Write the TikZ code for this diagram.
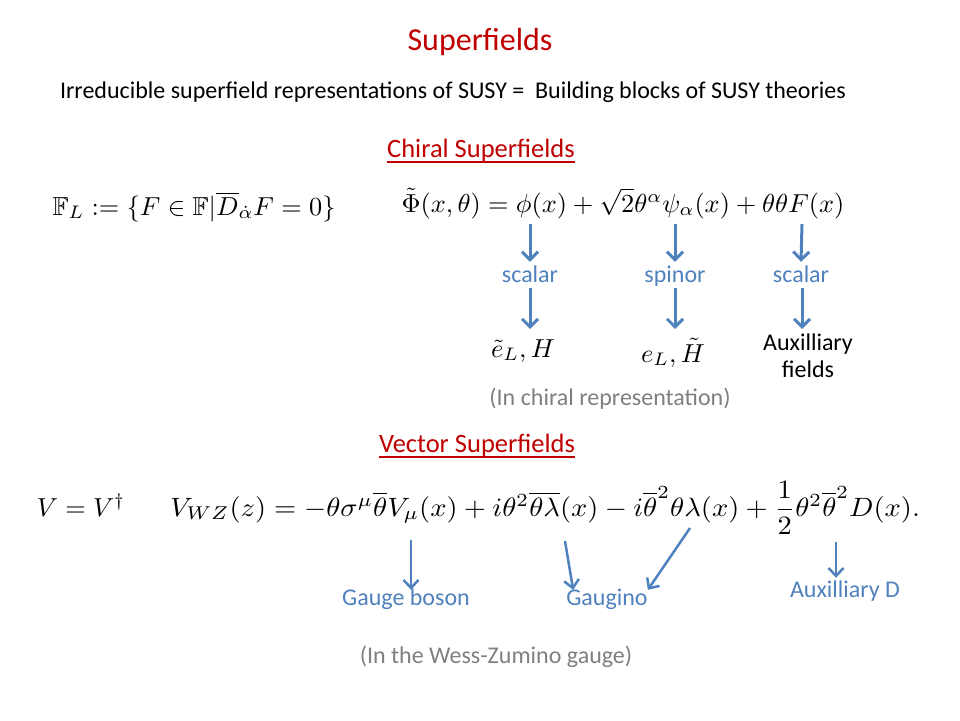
\documentclass[tikz,border=0pt]{standalone}
\usepackage{amsmath,amssymb}
\usepackage{fontspec}
\setmainfont{Carlito}
\usetikzlibrary{arrows.meta}
\definecolor{titlered}{RGB}{192,0,0}
\definecolor{slideblue}{RGB}{79,129,189}
\definecolor{notegray}{RGB}{127,127,127}
\newcommand{\chiraleq}[1]{\scalebox{2.63}[2.6]{$#1$}}
\newcommand{\vectoreq}[1]{\scalebox{2.85}[2.65]{$#1$}}
\tikzset{
  arr/.style={slideblue, line width=3pt, -{Straight Barb[length=8pt,width=16pt,line width=3pt]}},
  thinarr/.style={slideblue, line width=2.5pt, -{Straight Barb[length=8pt,width=15pt,line width=2.5pt]}},
  lbl/.style={text=slideblue, font=\fontsize{24}{28}\selectfont, anchor=base, inner sep=0pt},
  chirlbl/.style={lbl, text height=20pt, text depth=6pt},
  veclbl/.style={lbl, text height=15pt},
  note/.style={text=notegray, font=\fontsize{24}{28}\selectfont, anchor=base},
  heading/.style={text=titlered, font=\fontsize{26.5}{30}\selectfont, anchor=base, inner sep=0pt},
  underl/.style={titlered, line width=2pt},
  eq/.style={inner sep=0pt, anchor=base}
}
\begin{document}
\begin{tikzpicture}[x=1pt, y=-1pt]
  \useasboundingbox (0,0) rectangle (960,720);
  % titles
  \node[text=titlered, font=\fontsize{32}{36}\selectfont, anchor=base] (title) at (480,50) {Superfields};
  \node[font=\fontsize{24}{28}\selectfont, anchor=base] (intro) at (453,98) {Irreducible superfield representations of SUSY =\ \ Building blocks of SUSY theories};
  \node[heading] (chiral) at (481,157) {Chiral Superfields};
  \draw[underl] ([yshift=-5pt]chiral.base west) -- ([yshift=-5pt]chiral.base east);
  % chiral superfields
  \node[eq] (fl) at (194,215) {\chiraleq{\mathbb{F}_L := \{F\in\mathbb{F}|\overline{D}_{\dot\alpha}F = 0\}}};
  \node[eq] (phi) at (623,212) {\chiraleq{\tilde\Phi(x,\theta) = \phi(x) + \sqrt{2}\theta^\alpha\psi_\alpha(x) + \theta\theta F(x)}};
  \coordinate (t1) at (530,224);
  \coordinate (t2) at (675,224);
  \coordinate (t3) at (802,224);
  \node[chirlbl] (sc1) at (530,282) {scalar};
  \node[chirlbl] (sp) at (675,282) {spinor};
  \node[chirlbl] (sc2) at (801,282) {scalar};
  \node[eq] (sel) at (523,357) {\chiraleq{\tilde e_L, H}};
  \node[eq] (el) at (673,362) {\chiraleq{e_L, \tilde H}};
  \node[font=\fontsize{24}{27}\selectfont, align=center, anchor=north, inner sep=0pt] (aux) at (808,334) {Auxilliary\\fields};
  \coordinate (e1) at (530,329);
  \coordinate (e2) at (675,329);
  \draw[arr] (t1) -- (sc1.north);
  \draw[arr] (t2) -- (sp.north);
  \draw[arr] (t3) -- (sc2.north);
  \draw[arr] (sc1.south) -- (e1);
  \draw[arr] (sp.south) -- (e2);
  \draw[arr] ([xshift=1pt]sc2.south) -- ([xshift=-6pt,yshift=5pt]aux.north);
  \node[note] (chirrep) at (610,405) {(In chiral representation)};
  % vector superfields
  \node[heading] (vector) at (477,452) {Vector Superfields};
  \draw[underl] ([yshift=-5pt]vector.base west) -- ([yshift=-5pt]vector.base east);
  \node[eq] (vdag) at (81,516) {\chiraleq{V = V^\dagger}};
  \node[eq] (vwz) at (545,516) {\vectoreq{V_{WZ}(z) = -\theta\sigma^\mu\overline{\theta}V_\mu(x) + i\theta^2\overline{\theta\lambda}(x) - i\overline{\theta}^2\theta\lambda(x) + \dfrac{1}{2}\theta^2\overline{\theta}^2D(x).}};
  \node[veclbl] (boson) at (406,605) {Gauge boson};
  \node[veclbl] (gaugino) at (607,605) {Gaugino};
  \node[veclbl] (auxd) at (845,597) {Auxilliary D};
  \coordinate (v1) at (411,540);
  \coordinate (v2) at (565,541);
  \coordinate (v3) at (690,528);
  \coordinate (v4) at (836,542);
  \draw[thinarr] (v1) -- ([xshift=5pt]boson.north);
  \draw[thinarr] (v2) -- ([xshift=7pt]gaugino.north west);
  \draw[thinarr] (v3) -- (gaugino.north east);
  \draw[thinarr] (v4) -- ([xshift=-9pt,yshift=4pt]auxd.north);
  \node[note] (wzgauge) at (496,663) {(In the Wess-Zumino gauge)};
\end{tikzpicture}
\end{document}
